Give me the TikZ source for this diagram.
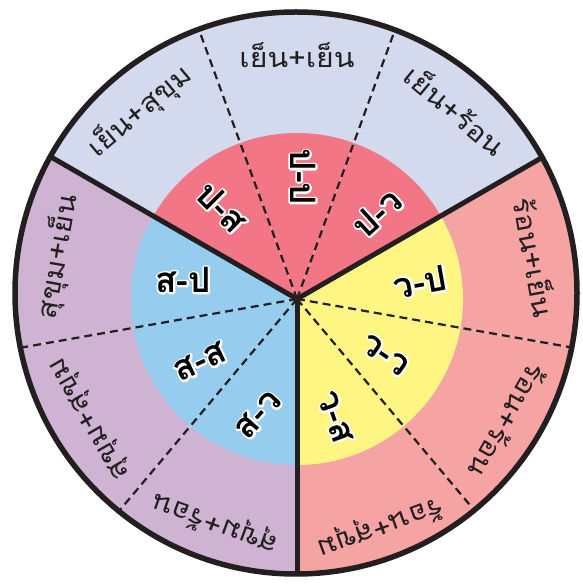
\documentclass[tikz,border=0pt]{standalone}
\usepackage{fontspec}
\newfontfamily\thaifont[Script=Thai]{Loma}
\newfontfamily\thaiwide[Script=Thai, FakeStretch=1.12]{Loma}
\definecolor{outtop}{HTML}{D4DAEE}
\definecolor{outleft}{HTML}{CFB3D3}
\definecolor{outright}{HTML}{F5A3A3}
\definecolor{intop}{HTML}{F27685}
\definecolor{inleft}{HTML}{96CDEE}
\definecolor{inright}{HTML}{FFF582}
\definecolor{ink}{HTML}{231F20}
\newcommand\halotext[1]{%
  \rlap{\special{pdf:literal direct 1 Tr 3.8 w 1 1 1 RG 1 j 1 J}#1\special{pdf:literal direct 0 Tr}}#1}
\tikzset{
  dashline/.style={ink, line width=2.2pt, dash pattern=on 8pt off 5pt},
  spoke/.style={ink, line width=5pt},
  rim/.style={ink, line width=5.5pt},
  outlab/.style={font=\thaiwide\fontsize{27}{30}\selectfont, text=ink, inner sep=0pt, anchor=base},
  inlab/.style={font=\thaifont\bfseries\fontsize{35}{38}\selectfont, text=black, inner sep=0pt},
}
\begin{document}
\begin{tikzpicture}[x=1pt,y=1pt]
\useasboundingbox (0,0) rectangle (583,584);
\fill[white] (0,0) rectangle (583,584);
\coordinate (C) at (297,285);
\coordinate (O) at (296,291);
\begin{scope}
  \clip (O) circle (281);
  \fill[outtop] (C) -- ++(30:420) arc (30:150:420) -- cycle;
  \fill[outleft] (C) -- ++(150:420) arc (150:270:420) -- cycle;
  \fill[outright] (C) -- ++(270:420) arc (270:390:420) -- cycle;
  \fill[intop] (C) -- ++(30:166) arc (30:150:166) -- cycle;
  \fill[inleft] (C) -- ++(150:166) arc (150:270:166) -- cycle;
  \fill[inright] (C) -- ++(270:166) arc (270:390:166) -- cycle;
  \foreach \a in {110,70,-10,-50,190,230}{
    \draw[white, opacity=0.5, line width=0.4pt] (C) -- ++(\a:420);
    \draw[dashline] (C) -- ++(\a:420);
  }
  \foreach \a in {30,150,270}{\draw[spoke] (C) -- ++(\a:420);}
\end{scope}
\draw[rim] (O) circle (281);
% outer labels (baseline on a circle round C)
\node[outlab] (o90) at ([shift={(90:231)}]C) {เย็น+เย็น};
\node[outlab, rotate=40] (o130) at ([shift={(130:236)}]C) {เย็น+สุขุม};
\node[outlab, rotate=-40] (o50) at ([shift={(50:235)}]C) {เย็น+ร้อน};
\node[outlab, rotate=-80] (o10) at ([shift={(10:230)}]C) {ร้อน+เย็น};
\node[outlab, rotate=80] (o170) at ([shift={(170:234)}]C) {สุขุม+เย็น};
\node[outlab, rotate=120] (o210) at ([shift={(210:233)}]C) {สุขุม+สุขุม};
\node[outlab, rotate=160] (o250) at ([shift={(250:231)}]C) {สุขุม+ร้อน};
\node[outlab, rotate=-160] (o290) at ([shift={(290:235)}]C) {ร้อน+สุขุม};
\node[outlab, rotate=-120] (o330) at ([shift={(330:233)}]C) {ร้อน+ร้อน};
% inner labels
\node[inlab, rotate=-45] (i130) at (222,377) {\halotext{ป-ส}};
\node[inlab, rotate=-90] (i90) at (303,407) {\halotext{ป-ป}};
\node[inlab, rotate=42] (i50) at (377,371) {\halotext{ป-ว}};
\node[inlab, rotate=0] (i170) at (183,304) {\halotext{ส-ป}};
\node[inlab, rotate=25] (i210) at (200,222) {\halotext{ส-ส}};
\node[inlab, rotate=48] (i250) at (258,169) {\halotext{ส-ว}};
\node[inlab, rotate=10] (i10) at (420,302) {\halotext{ว-ป}};
\node[inlab, rotate=-35] (i330) at (385,229) {\halotext{ว-ว}};
\node[inlab, rotate=-70] (i290) at (335,167) {\halotext{ว-ส}};
\end{tikzpicture}
\end{document}
